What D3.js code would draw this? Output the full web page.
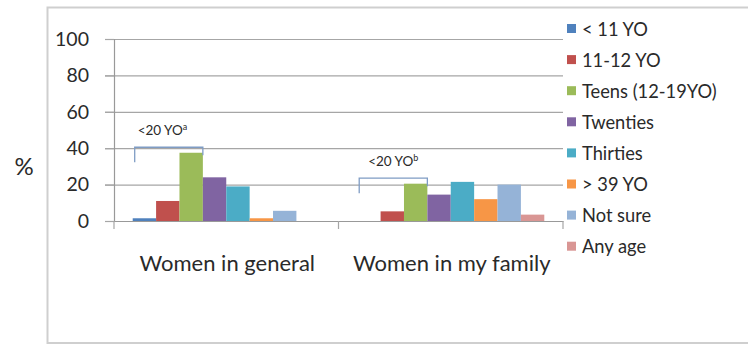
<!DOCTYPE html>
<html><head><meta charset="utf-8">
<script src="https://cdnjs.cloudflare.com/ajax/libs/d3/7.8.5/d3.min.js"></script>
<style>body{margin:0;background:#fff;}svg{display:block;}</style>
</head><body>
<script>
const categories = ["Women in general", "Women in my family"];
const seriesNames = ["< 11 YO", "11-12 YO", "Teens (12-19YO)", "Twenties", "Thirties", "> 39 YO", "Not sure", "Any age"];
const generalValues = [1.5, 11, 37.5, 24, 19, 1.5, 5.6, 0];
const familyValues = [0, 5.3, 20.5, 14.5, 21.5, 12, 20, 3.5];
const colors = ["#4F81BD", "#C0504D", "#9BBB59", "#8064A2", "#4BACC6", "#F79646", "#95B3D7", "#D99694"];
const yTicks = [0, 20, 40, 60, 80, 100];
const bracketLabels = ["<20 YO", "<20 YO"];
const bracketSup = ["a", "b"];

const W = 748, H = 346;
const svg = d3.select("body").append("svg").attr("width", W).attr("height", H);
const font = "Lato, 'Open Sans', sans-serif";
const txt = "#2a2a2a";

// outer frame
svg.append("rect").attr("x", 47.5).attr("y", 7.5).attr("width", 760).attr("height", 335.5)
  .attr("fill", "none").attr("stroke", "#cfcfcf").attr("stroke-width", 2);

const x0 = 114, x1 = 563, yTop = 39, yBot = 221;
const y = d3.scaleLinear().domain([0, 100]).range([yBot, yTop]);
const xCat = d3.scaleBand().domain(categories).range([x0, x1]);
const xSer = d3.scaleBand().domain(seriesNames).range([0, xCat.bandwidth()]).paddingOuter(0.8).paddingInner(0);

// gridlines
svg.append("g").selectAll("line").data(yTicks.filter(d => d > 0)).join("line")
  .attr("x1", 105).attr("x2", x1).attr("y1", d => y(d) + 0.5).attr("y2", d => y(d) + 0.5)
  .attr("stroke", "#a6a6a6").attr("stroke-width", 1.2);

// y axis
const yAxis = svg.append("g").attr("transform", `translate(${x0},0)`)
  .call(d3.axisLeft(y).tickValues(yTicks).tickSize(9).tickPadding(16));
yAxis.select(".domain").attr("stroke", "#999").attr("stroke-width", 1.2);
yAxis.selectAll(".tick line").attr("stroke", "#a6a6a6").attr("stroke-width", 1.2);
yAxis.selectAll("text").attr("font-family", font).attr("font-size", 19.5).attr("fill", txt);

// bars
const data = [generalValues, familyValues];
categories.forEach((c, ci) => {
  svg.append("g").selectAll("rect").data(data[ci].map((v, i) => ({v, s: seriesNames[i], i}))).join("rect")
    .attr("x", d => xCat(c) + xSer(d.s))
    .attr("width", xSer.bandwidth())
    .attr("y", d => y(d.v))
    .attr("height", d => y(0) - y(d.v))
    .attr("fill", d => colors[d.i]);
});

// x axis
const xAxis = svg.append("g").attr("transform", `translate(0,${yBot})`)
  .call(d3.axisBottom(xCat).tickSize(0).tickFormat(""));
xAxis.select(".domain").attr("stroke", "#999").attr("stroke-width", 1.2);
[x0, x0 + xCat.bandwidth(), x1].forEach(px => {
  svg.append("line").attr("x1", px).attr("x2", px).attr("y1", yBot).attr("y2", yBot + 8)
    .attr("stroke", "#a6a6a6").attr("stroke-width", 1.2);
});
svg.append("g").selectAll("text").data(categories).join("text")
  .attr("x", d => xCat(d) + xCat.bandwidth() / 2 + 1)
  .attr("y", 271).attr("text-anchor", "middle")
  .attr("font-family", font).attr("font-size", 22).attr("fill", txt).text(d => d);

// "%" label
svg.append("text").attr("x", 24).attr("y", 175).attr("font-family", font).attr("font-size", 24)
  .attr("fill", txt).attr("text-anchor", "middle").text("%");

// brackets spanning first three bars (through Teens)
data.forEach((vals, ci) => {
  const c = categories[ci];
  const bx1 = xCat(c) + xSer(seriesNames[0]) + 2;
  const bx2 = xCat(c) + xSer(seriesNames[2]) + xSer.bandwidth();
  const top = y(Math.max(...vals.slice(0, 3))) - 5.5;
  svg.append("path")
    .attr("d", `M${bx1},${top + 15}V${top}H${bx2}V${top + 8}`)
    .attr("fill", "none").attr("stroke", "#7f9cc4").attr("stroke-width", 1.3);
  const t = svg.append("text").attr("x", bx1 + (ci === 0 ? 3 : 9)).attr("y", top - 12)
    .attr("font-family", font).attr("font-size", 13.5).attr("fill", txt);
  t.append("tspan").text(bracketLabels[ci]);
  t.append("tspan").attr("dy", -5).attr("font-size", 9).text(bracketSup[ci]);
});

// legend
const leg = svg.append("g").selectAll("g").data(seriesNames).join("g")
  .attr("transform", (d, i) => `translate(567,${29 + i * 31.1})`);
leg.append("rect").attr("x", 0).attr("y", -5).attr("width", 9).attr("height", 9).attr("fill", (d, i) => colors[i]);
leg.append("text").attr("x", 15).attr("y", 0).attr("dy", "0.36em")
  .attr("font-family", font).attr("font-size", 18.3).attr("fill", txt).text(d => d);
</script>
</body></html>
